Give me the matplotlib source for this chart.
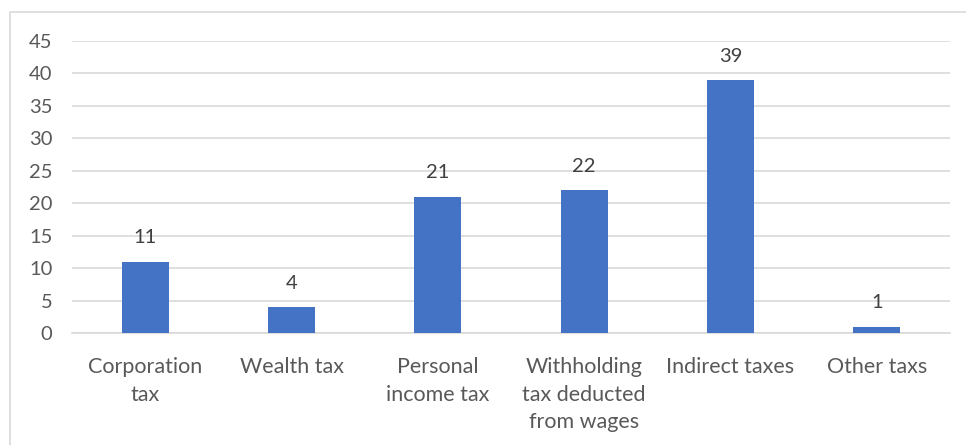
import matplotlib

matplotlib.use("Agg")

import matplotlib.pyplot as plt
from matplotlib.patches import Rectangle
import numpy as np

categories = [
    "Corporation\ntax",
    "Wealth tax",
    "Personal\nincome tax",
    "Withholding\ntax deducted\nfrom wages",
    "Indirect taxes",
    "Other taxs",
]
values = [11, 4, 21, 22, 39, 1]
y_ticks = list(range(0, 50, 5))

TEXT = "#595959"
GRID = "#d9d9d9"
BAR = "#4472C4"

plt.rcParams["font.family"] = ["Lato", "DejaVu Sans"]

fig = plt.figure(figsize=(9.66, 4.45), dpi=100)
fig.patch.set_facecolor("white")

# outer chart border (runs off the right and bottom edge in the reference)
fig.patches.append(
    Rectangle((10 / 966, -0.05), 1.2, 1 - 12 / 445 + 0.05,
              transform=fig.transFigure, fill=False,
              edgecolor=GRID, linewidth=1.2)
)

ax = fig.add_axes([72 / 966, 1 - 333 / 445, (950 - 72) / 966, (333 - 41) / 445])
x = np.arange(len(categories))
bars = ax.bar(x, values, width=0.32, color=BAR, zorder=3)

ax.set_xlim(-0.5, len(categories) - 0.5)
ax.set_ylim(0, 45)
ax.set_yticks(y_ticks)
ax.set_xticks(x)
ax.set_xticklabels(categories, linespacing=1.45, fontsize=15.5)
ax.tick_params(axis="both", length=0, colors=TEXT)
ax.tick_params(axis="x", pad=17.5)
ax.tick_params(axis="y", pad=14, labelsize=14.5)
for lbl in ax.get_yticklabels():
    lbl.set_horizontalalignment("right")

ax.grid(axis="y", color=GRID, linewidth=1.2, zorder=0)
for side in ("top", "right", "left"):
    ax.spines[side].set_visible(False)
ax.spines["bottom"].set_color(GRID)
ax.spines["bottom"].set_linewidth(1.2)

for b, v in zip(bars, values):
    ax.annotate(str(v), (b.get_x() + b.get_width() / 2, v),
                xytext=(0, 11), textcoords="offset points",
                ha="center", va="bottom", color="#404040", fontsize=14.5)

fig.savefig("out.png", dpi=100)
